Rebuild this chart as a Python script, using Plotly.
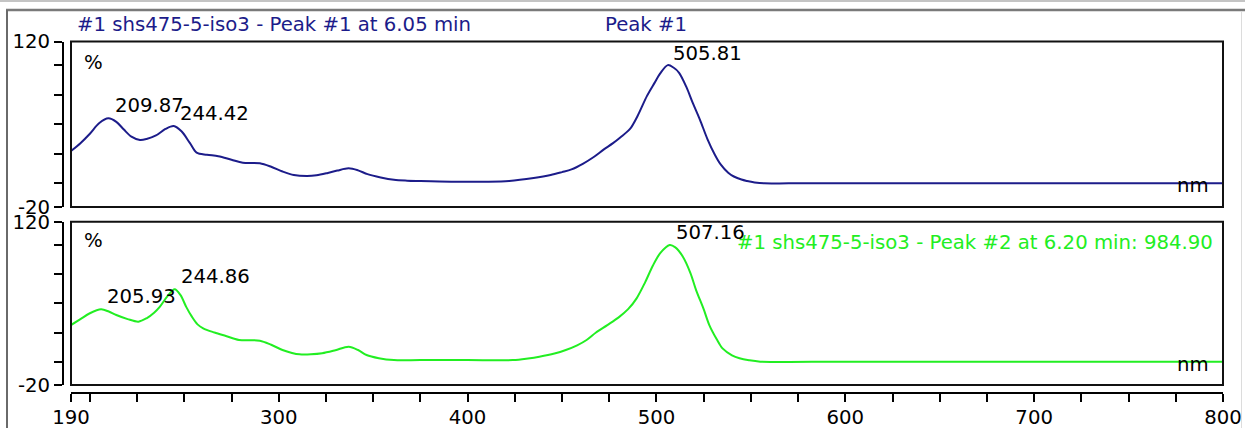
import numpy as np
import plotly.graph_objects as go

W, H = 1245, 428
FONT = "DejaVu Sans"
FS = 19.7
NAVY = "#1c1c8a"
GREEN = "#22ee22"

# ---- data: Peak #1 (top, navy) ----
nm_top = [190, 195, 200, 205, 209.8, 214, 218, 222, 226.5, 230, 235, 240, 244.4, 248.5, 253, 256.5,
          262, 268, 275, 281, 290, 296, 302, 308, 315, 320, 326, 331, 337, 342, 347, 354, 361,
          368, 375, 385, 396, 410, 422, 435, 444, 450, 455, 461, 467, 472, 477, 481, 486, 490,
          495, 499, 502, 506, 509, 512, 516, 519, 523, 527, 531, 534, 538, 541, 545, 548,
          552, 557, 570, 600, 700, 800]
pct_top = [27.4, 34, 42, 51, 55, 52, 45.5, 39.5, 36.7, 37.5, 40.5, 46, 48.5, 44, 34, 26,
           24.2, 23, 20, 17.5, 17, 14, 10, 7, 6.2, 6.8, 8.8, 10.8, 12.7, 11, 7.8, 5, 3,
           2.3, 2, 1.6, 1.4, 1.4, 2, 4.5, 7, 9.5, 11.8, 16.5, 22.5, 28.5, 34, 39, 46, 57,
           74, 85, 93, 100, 98, 93.5, 81, 69, 54, 37.5, 24, 16, 9, 5.8, 3.2, 2,
           0.8, 0, 0, 0, 0, 0]

# ---- data: Peak #2 (bottom, green) ----
nm_bot = [190, 195, 200, 205.9, 210, 214, 220, 225.7, 230, 234, 237, 241, 244.9, 248, 251, 254,
          257, 260, 266, 272, 279, 290, 296, 302, 307, 311, 317, 323, 330, 337, 342, 346.5,
          353, 361, 375, 400, 424, 432, 438, 446, 452, 458, 463, 468, 474, 480, 485, 489.5,
          494, 498, 502, 507, 510, 514, 518, 521, 525, 528, 532, 535, 540, 544, 549, 555,
          600, 700, 800]
pct_bot = [31.4, 36.5, 41.5, 44.9, 43, 40, 36.5, 34.3, 37.2, 42, 47, 56, 62, 57, 47, 38.6,
           32, 28.6, 25, 22, 18.6, 18, 14.5, 10, 7.5, 6.3, 6.3, 7.2, 9.8, 12.8, 10, 5.7,
           3, 1.4, 1.4, 1.4, 1.4, 2.8, 4.3, 7, 10, 14, 18.6, 25, 31.4, 38, 45, 54.3,
           68, 82, 93, 100, 98, 90, 76, 61.4, 45, 31.4, 19, 11.4, 5.5, 2.9, 1.2, 0,
           0, 0, 0]

peaks_top = [209.87, 244.42, 505.81]
peaks_bot = [205.93, 244.86, 507.16]

x_ticks = [190] + list(range(200, 800, 25)) + [800]
x_labels = {190: "190", 300: "300", 400: "400", 500: "500", 600: "600", 700: "700", 800: "800"}
y_ticks = [-20, 0, 25, 50, 75, 100, 120]
y_labels = ["-20", "", "", "", "", "", "120"]

title_top = "#1 shs475-5-iso3 - Peak #1 at 6.05 min"
title_peak = "Peak #1"
title_bot = "#1 shs475-5-iso3 - Peak #2 at 6.20 min: 984.90"


def px(x):
    return x / W


def py(y):
    return (H - y) / H


fig = go.Figure()
fig.add_trace(go.Scatter(x=nm_top, y=pct_top, mode="lines", xaxis="x", yaxis="y2",
                         line=dict(color=NAVY, width=2, shape="spline", smoothing=0.9),
                         showlegend=False, hoverinfo="skip"))
fig.add_trace(go.Scatter(x=nm_bot, y=pct_bot, mode="lines", xaxis="x", yaxis="y",
                         line=dict(color=GREEN, width=2, shape="spline", smoothing=0.9),
                         showlegend=False, hoverinfo="skip"))

font = dict(family=FONT, size=FS, color="black")
axis_common = dict(showgrid=False, zeroline=False, showline=True, linecolor="black",
                   linewidth=2, ticks="outside", ticklen=8, tickwidth=1.5,
                   tickcolor="black", tickfont=font, fixedrange=True, automargin=False)

fig.update_layout(
    template="none",
    width=W, height=H, autosize=False,
    margin=dict(l=0, r=0, t=0, b=0, pad=0),
    paper_bgcolor="white", plot_bgcolor="white",
    xaxis=dict(domain=[px(71), px(1223)], range=[190, 800], anchor="free",
               position=py(393.3), tickvals=x_ticks, ticklabelstandoff=-2,
               ticktext=[x_labels.get(v, "") for v in x_ticks], **axis_common),
    yaxis=dict(domain=[py(385), py(221.7)], range=[-20, 120], anchor="free",
               position=px(63), tickvals=y_ticks, ticktext=y_labels, **axis_common),
    yaxis2=dict(domain=[py(207), py(41.5)], range=[-20, 120], anchor="free",
                position=px(63), tickvals=y_ticks, ticktext=y_labels, **axis_common),
)

shapes = []
# plot boxes
for yr in ["y", "y2"]:
    shapes.append(dict(type="rect", xref="x domain", yref=yr + " domain", x0=0, x1=1, y0=0, y1=1,
                       line=dict(color="#111111", width=2)))
# window frame
shapes.append(dict(type="line", xref="paper", yref="paper", x0=0, x1=1, y0=py(1), y1=py(1),
                   line=dict(color="#c4c4c4", width=2)))
shapes.append(dict(type="line", xref="paper", yref="paper", x0=px(6), x1=1, y0=py(10), y1=py(10),
                   line=dict(color="#7a7a7a", width=2.5)))
shapes.append(dict(type="line", xref="paper", yref="paper", x0=px(7), x1=px(7), y0=py(10), y1=0,
                   line=dict(color="#6a6a6a", width=2)))
shapes.append(dict(type="line", xref="paper", yref="paper", x0=px(1241.5), x1=px(1241.5), y0=py(11), y1=0,
                   line=dict(color="#dcdcdc", width=1)))
fig.update_layout(shapes=shapes)

ann = []
ann.append(dict(text=title_top, xref="paper", yref="paper", x=px(75), y=py(24),
                xanchor="left", yanchor="middle", showarrow=False,
                font=dict(family=FONT, size=FS, color=NAVY)))
ann.append(dict(text=title_peak, xref="paper", yref="paper", x=px(646), y=py(24),
                xanchor="center", yanchor="middle", showarrow=False,
                font=dict(family=FONT, size=FS, color=NAVY)))
ann.append(dict(text=title_bot, xref="paper", yref="paper", x=px(735), y=py(242),
                xanchor="left", yanchor="middle", showarrow=False,
                font=dict(family=FONT, size=FS, color=GREEN)))
for yr, ypos_pct, ypos_nm in [("y2", 0.876, 0.127), ("y", 0.882, 0.1225)]:
    ann.append(dict(text="%", xref="x domain", yref=yr + " domain", x=0.0191, y=ypos_pct,
                    xanchor="center", yanchor="middle", showarrow=False, font=font))
    ann.append(dict(text="nm", xref="x domain", yref=yr + " domain", x=1, y=ypos_nm,
                    xanchor="right", yanchor="middle", xshift=-12, showarrow=False, font=font))

for yr, peaks, xs, ys in [("y2", peaks_top, nm_top, pct_top), ("y", peaks_bot, nm_bot, pct_bot)]:
    for p in peaks:
        h = float(np.interp(p, xs, ys))
        ann.append(dict(text=f"{p:.2f}", xref="x", yref=yr, x=p, y=h,
                        xanchor="left", yanchor="bottom", xshift=4, yshift=-1,
                        showarrow=False, font=font))
fig.update_layout(annotations=ann)

fig.write_html("out.html")
